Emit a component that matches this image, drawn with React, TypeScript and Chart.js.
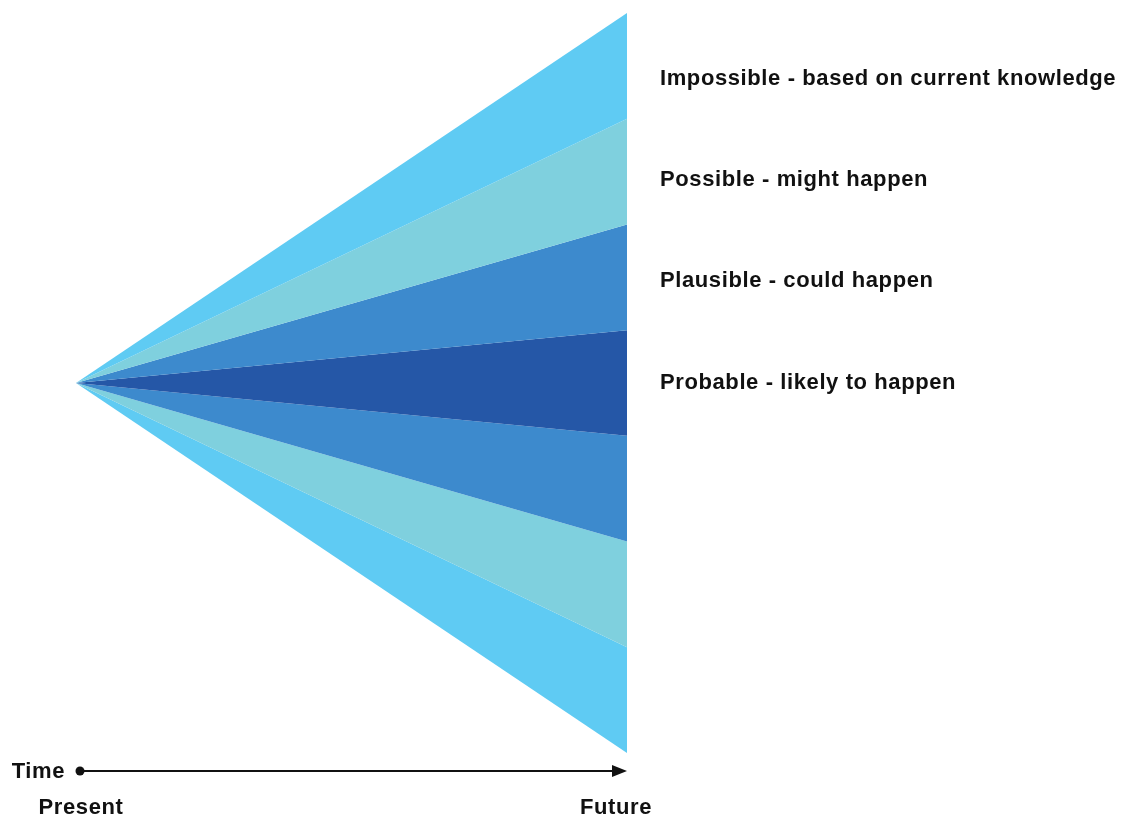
import React, { useEffect, useRef } from "react";
import { Chart, registerables } from "chart.js";

Chart.register(...registerables);

// Time axis: present (apex) to future (open end)
const timeStops = [0, 1];
const timeLabels = ["Present", "Future"];
const axisTitle = "Time";

// Boundary levels of the cone at the "Future" end, top to bottom
const apexLevel = 0;
const boundaryLevels = [3.5, 2.5, 1.5, 0.5, -0.5, -1.5, -2.5, -3.5];

// Band fills (between consecutive boundaries), top to bottom
const bandColors = ["#5fcbf3", "#7fd0de", "#3d8acd", "#2557a7", "#3d8acd", "#7fd0de", "#5fcbf3"];

// Category labels and the level they sit at on the right
const categoryLabels = [
  "Impossible - based on current knowledge",
  "Possible - might happen",
  "Plausible - could happen",
  "Probable - likely to happen",
];
const categoryLevels = [2.88, 1.92, 0.97, 0];

const FONT = 'bold 22px "Liberation Sans", Arial, Helvetica, sans-serif';

const annotations = {
  id: "coneAnnotations",
  afterDraw(chart: any) {
    const { ctx, scales, chartArea } = chart;
    const xs = scales.x;
    const ys = scales.y;
    ctx.save();
    ctx.fillStyle = "#111";
    ctx.font = FONT;
    try { (ctx as any).letterSpacing = "0.6px"; } catch (e) {}
    ctx.textBaseline = "middle";
    ctx.textAlign = "left";
    const labelX = xs.getPixelForValue(timeStops[1]) + 33;
    categoryLabels.forEach((t, i) => {
      ctx.fillText(t, labelX, ys.getPixelForValue(categoryLevels[i]));
    });

    // time axis
    const axisY = chartArea.bottom + 18;
    const x0 = xs.getPixelForValue(timeStops[0]) + 4;
    const x1 = xs.getPixelForValue(timeStops[1]);
    ctx.strokeStyle = "#111";
    ctx.lineWidth = 2;
    ctx.beginPath();
    ctx.moveTo(x0, axisY);
    ctx.lineTo(x1 - 10, axisY);
    ctx.stroke();
    ctx.beginPath();
    ctx.moveTo(x1, axisY);
    ctx.lineTo(x1 - 15, axisY - 6);
    ctx.lineTo(x1 - 15, axisY + 6);
    ctx.closePath();
    ctx.fill();
    ctx.beginPath();
    ctx.arc(x0, axisY, 4.5, 0, Math.PI * 2);
    ctx.fill();

    ctx.textAlign = "right";
    ctx.fillText(axisTitle, x0 - 15, axisY + 1);
    ctx.textAlign = "center";
    ctx.fillText(timeLabels[0], x0 + 1, axisY + 37);
    ctx.fillText(timeLabels[1], x1 - 11, axisY + 37);
    ctx.restore();
  },
};

export default function App() {
  const ref = useRef<HTMLCanvasElement | null>(null);
  useEffect(() => {
    if (!ref.current) return;
    const datasets = boundaryLevels.map((lvl, i) => ({
      data: [
        { x: timeStops[0], y: apexLevel },
        { x: timeStops[1], y: lvl },
      ],
      borderWidth: 0,
      borderColor: "rgba(0,0,0,0)",
      pointRadius: 0,
      backgroundColor: i === 0 ? "rgba(0,0,0,0)" : bandColors[i - 1],
      fill: i === 0 ? false : "-1",
      tension: 0,
    }));
    const chart = new Chart(ref.current, {
      type: "line",
      data: { datasets },
      options: {
        animation: false,
        responsive: true,
        maintainAspectRatio: false,
        layout: { padding: { left: 76, right: 503, top: 13, bottom: 69 } },
        plugins: { legend: { display: false }, tooltip: { enabled: false } },
        scales: {
          x: { type: "linear", min: 0, max: 1, display: false },
          y: { type: "linear", min: -3.5, max: 3.5, display: false },
        },
      },
      plugins: [annotations],
    });
    return () => chart.destroy();
  }, []);
  return (
    <div style={{ position: "absolute", left: 0, top: 0, width: 1130, height: 822, background: "#fff" }}>
      <canvas ref={ref} />
    </div>
  );
}
